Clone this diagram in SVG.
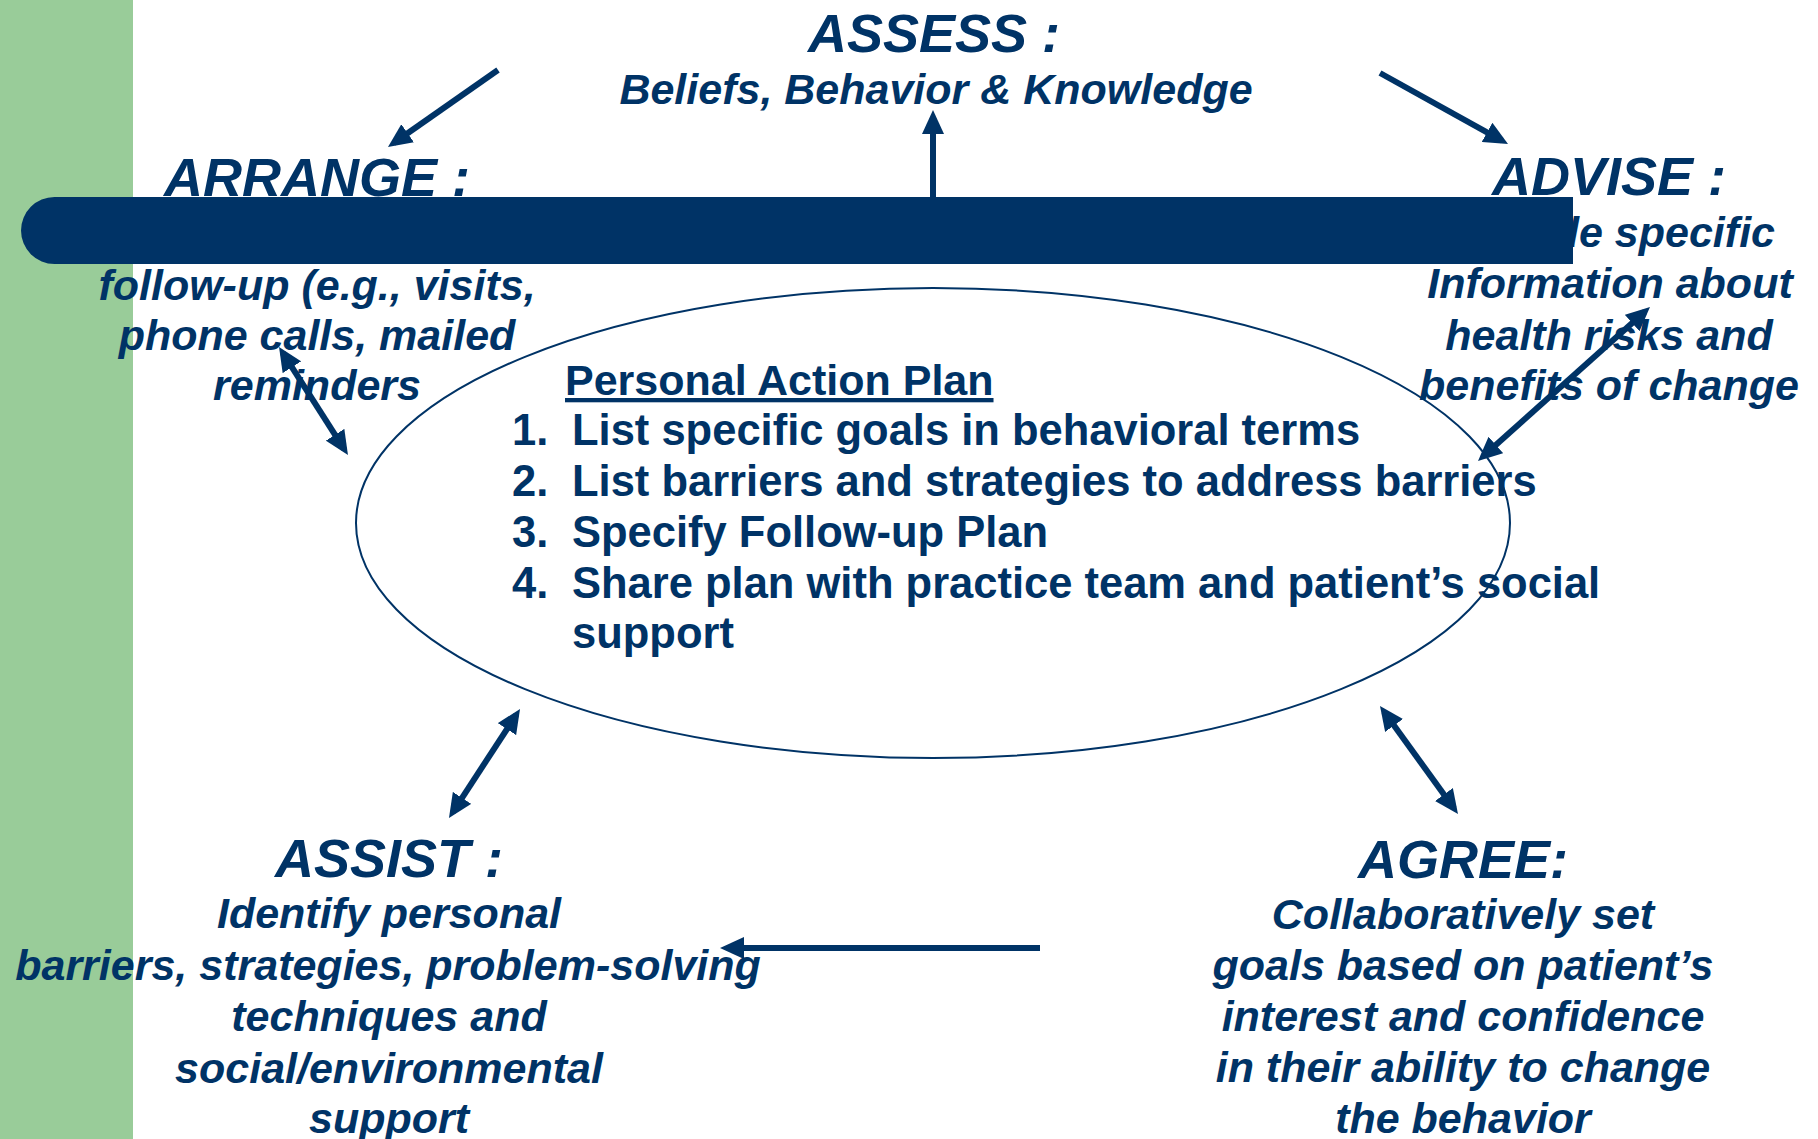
<svg xmlns="http://www.w3.org/2000/svg" width="1818" height="1139" viewBox="0 0 1818 1139">
  <style>
    .lbl { font-family: "Liberation Sans", Arial, sans-serif; font-weight: bold; font-style: italic; fill: #003366; text-anchor: middle; }
    .head { font-size: 54px; }
    .body { font-size: 43px; }
    .plan { font-family: "Liberation Sans", Arial, sans-serif; font-weight: bold; font-size: 43.5px; fill: #003366; }
    .title { font-size: 43px; }
    .conn { stroke: #003366; stroke-width: 6; fill: none; }
  </style>
  <defs>
    <marker id="arrow" viewBox="0 0 24 22" refX="17" refY="11" markerWidth="24" markerHeight="22" markerUnits="userSpaceOnUse" orient="auto-start-reverse">
      <path d="M0,0 L24,11 L0,22 Z" fill="#003366"/>
    </marker>
  </defs>

  <!-- page background and side band -->
  <rect x="0" y="0" width="1818" height="1139" fill="#ffffff"/>
  <rect x="0" y="0" width="133" height="1139" fill="#99cc99"/>

  <!-- central plan -->
  <g id="plan">
    <ellipse cx="933" cy="523" rx="577" ry="235" fill="none" stroke="#003366" stroke-width="2"/>
    <text class="plan title" x="565" y="395" text-decoration="underline">Personal Action Plan</text>
    <text class="plan" x="512" y="445">1.</text>
    <text class="plan" x="572" y="445">List specific goals in behavioral terms</text>
    <text class="plan" x="512" y="496">2.</text>
    <text class="plan" x="572" y="496">List barriers and strategies to address barriers</text>
    <text class="plan" x="512" y="547">3.</text>
    <text class="plan" x="572" y="547">Specify Follow-up Plan</text>
    <text class="plan" x="512" y="598">4.</text>
    <text class="plan" x="572" y="598">Share plan with practice team and patient’s social</text>
    <text class="plan" x="572" y="648">support</text>
  </g>

  <g id="assess">
    <text class="lbl head" x="934" y="52">ASSESS :</text>
    <text class="lbl body" x="936" y="104">Beliefs, Behavior &amp; Knowledge</text>
  </g>

  <g id="arrange">
    <text class="lbl head" x="317" y="196">ARRANGE :</text>
    <text class="lbl body" x="317" y="300">follow-up (e.g., visits,</text>
    <text class="lbl body" x="317" y="350">phone calls, mailed</text>
    <text class="lbl body" x="317" y="400">reminders</text>
  </g>

  <g id="advise">
    <text class="lbl head" x="1609" y="195">ADVISE :</text>
    <text class="lbl body" x="1775" y="247" style="text-anchor:end">de specific</text>
    <text class="lbl body" x="1610" y="298">Information about</text>
    <text class="lbl body" x="1609" y="350">health risks and</text>
    <text class="lbl body" x="1609" y="400">benefits of change</text>
  </g>

  <g id="assist">
    <text class="lbl head" x="389" y="877">ASSIST :</text>
    <text class="lbl body" x="389" y="928">Identify personal</text>
    <text class="lbl body" x="388" y="980">barriers, strategies, problem-solving</text>
    <text class="lbl body" x="389" y="1031">techniques and</text>
    <text class="lbl body" x="389" y="1083">social/environmental</text>
    <text class="lbl body" x="389" y="1133">support</text>
  </g>

  <g id="agree">
    <text class="lbl head" x="1463" y="878">AGREE:</text>
    <text class="lbl body" x="1463" y="929">Collaboratively set</text>
    <text class="lbl body" x="1463" y="980">goals based on patient’s</text>
    <text class="lbl body" x="1463" y="1031">interest and confidence</text>
    <text class="lbl body" x="1463" y="1082">in their ability to change</text>
    <text class="lbl body" x="1463" y="1133">the behavior</text>
  </g>

  <!-- connectors -->
  <g id="connectors">
    <line class="conn" x1="498" y1="70" x2="393.7" y2="143" marker-end="url(#arrow)"/>
    <line class="conn" x1="933" y1="197" x2="933" y2="117" marker-end="url(#arrow)"/>
    <line class="conn" x1="1380" y1="73" x2="1501.9" y2="140.6" marker-end="url(#arrow)"/>
    <line class="conn" x1="282.8" y1="352.9" x2="344.2" y2="449.1" marker-start="url(#arrow)" marker-end="url(#arrow)"/>
    <line class="conn" x1="1483.2" y1="456.3" x2="1644.8" y2="311.7" marker-start="url(#arrow)" marker-end="url(#arrow)"/>
    <line class="conn" x1="516.2" y1="714.9" x2="452.8" y2="812.1" marker-start="url(#arrow)" marker-end="url(#arrow)"/>
    <line class="conn" x1="1384.1" y1="711.7" x2="1453.9" y2="808.3" marker-start="url(#arrow)" marker-end="url(#arrow)"/>
    <line class="conn" x1="1040" y1="948" x2="727" y2="948" stroke-width="7" marker-end="url(#arrow)"/>
  </g>

  <!-- dark title band across the top -->
  <g id="banner">
    <path d="M54.5,197 H1573 V264 H54.5 A33.5,33.5 0 0 1 54.5,197 Z" fill="#003366"/>
  </g>
</svg>
